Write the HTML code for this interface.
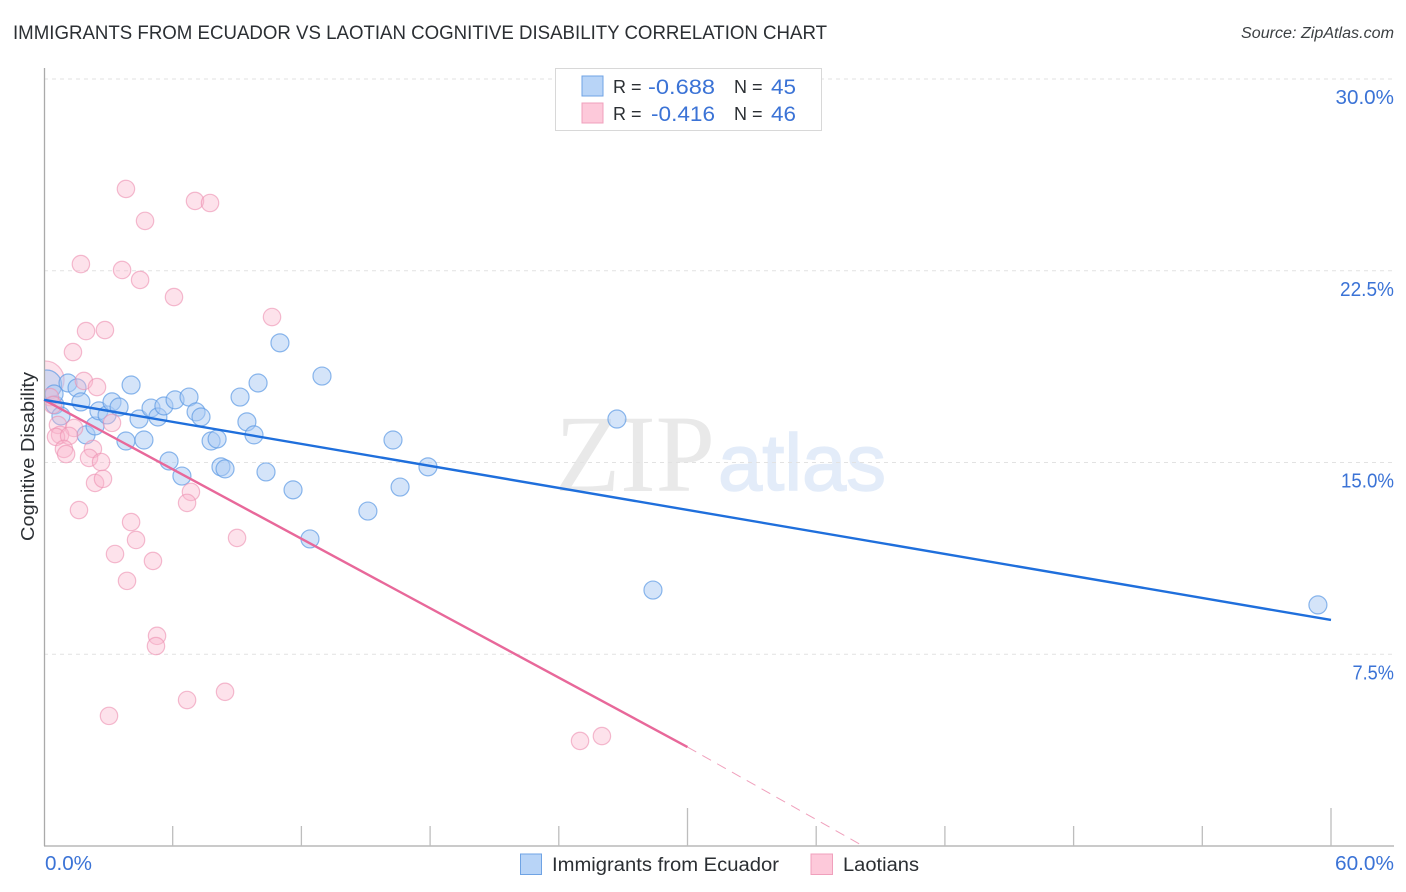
<!DOCTYPE html>
<html lang="en">
<head>
<meta charset="utf-8">
<title>Immigrants from Ecuador vs Laotian Cognitive Disability Correlation Chart</title>
<style>
html,body{margin:0;padding:0;background:#fff;width:1406px;height:892px;overflow:hidden}
svg{display:block}
text{font-family:"Liberation Sans",sans-serif}
</style>
</head>
<body>
<svg id="chart" width="1406" height="892" viewBox="0 0 1406 892" xmlns="http://www.w3.org/2000/svg">
  <rect width="1406" height="892" fill="#fff"/>
  <text x="13" y="39" font-size="19.5" fill="#2b2f33" textLength="814" lengthAdjust="spacingAndGlyphs">IMMIGRANTS FROM ECUADOR VS LAOTIAN COGNITIVE DISABILITY CORRELATION CHART</text>
  <text x="1394" y="38" font-size="15.5" font-style="italic" fill="#3c4043" text-anchor="end" textLength="153" lengthAdjust="spacingAndGlyphs">Source: ZipAtlas.com</text>
  <g>
    <text x="555" y="491" font-size="110" fill="#e9e9e9" textLength="160" lengthAdjust="spacingAndGlyphs" style="font-family:'Liberation Serif',serif">ZIP</text>
    <text x="718" y="490" font-size="80" fill="#e3ecf9" stroke="#e3ecf9" stroke-width="1.5" textLength="168" lengthAdjust="spacingAndGlyphs">atlas</text>
  </g>
  <g id="grid"></g>
  <g id="points"></g>
  <rect x="0" y="340" width="44" height="100" fill="#fff"/>
  <g id="axes"></g>
  <g id="trends"></g>
  <g id="labels"></g>
  <text x="0" y="0" transform="translate(34,456.5) rotate(-90)" font-size="18.5" fill="#2b2f33" text-anchor="middle" textLength="169" lengthAdjust="spacingAndGlyphs">Cognitive Disability</text>

  <g>
    <rect x="555.5" y="68.5" width="266" height="62" fill="#fff" stroke="#d8d8d8"/>
    <rect x="582" y="76" width="21" height="20" fill="#b8d4f7" stroke="#6fa3e4"/>
    <rect x="582" y="103" width="21" height="20" fill="#fdc9da" stroke="#f0a0bc"/>
    <text x="613" y="93" font-size="18" fill="#2b2f33">R =</text>
    <text x="648" y="94" font-size="21.5" fill="#3b73d6" textLength="67" lengthAdjust="spacingAndGlyphs">-0.688</text>
    <text x="734" y="93" font-size="18" fill="#2b2f33">N =</text>
    <text x="771" y="94" font-size="21.5" fill="#3b73d6" textLength="25" lengthAdjust="spacingAndGlyphs">45</text>
    <text x="613" y="120" font-size="18" fill="#2b2f33">R =</text>
    <text x="651" y="121" font-size="21.5" fill="#3b73d6" textLength="64" lengthAdjust="spacingAndGlyphs">-0.416</text>
    <text x="734" y="120" font-size="18" fill="#2b2f33">N =</text>
    <text x="771" y="121" font-size="21.5" fill="#3b73d6" textLength="25" lengthAdjust="spacingAndGlyphs">46</text>
  </g>

  <g>
    <g>
      <rect x="520.5" y="854" width="21" height="20.5" fill="#b8d4f7" stroke="#6fa3e4"/>
      <text x="552" y="871" font-size="19" fill="#2b2f33" textLength="227" lengthAdjust="spacingAndGlyphs">Immigrants from Ecuador</text>
    </g>
    <g>
      <rect x="811" y="854" width="21.5" height="20.5" fill="#fdc9da" stroke="#f0a0bc"/>
      <text x="843" y="871" font-size="19" fill="#2b2f33" textLength="76" lengthAdjust="spacingAndGlyphs">Laotians</text>
    </g>
  </g>
</svg>
<script>
const ecuadorX = [1.12,1.54,1.72,0.51,0.47,0.79,1.96,2.38,2.56,2.94,3.17,3.50,3.82,4.06,4.43,4.66,4.99,5.31,5.59,5.83,6.11,6.43,6.76,7.09,7.32,7.79,8.07,8.25,8.44,9.14,9.46,9.79,9.98,10.35,11.00,11.61,12.40,12.96,15.10,16.27,16.60,17.90,26.71,28.39,59.39];
const ecuadorY = [18.11,17.92,17.37,17.25,17.68,16.82,16.08,16.43,17.02,16.86,17.37,17.17,15.84,18.03,16.70,15.88,17.13,16.78,17.21,15.06,17.45,14.47,17.56,16.98,16.78,15.84,15.92,14.83,14.75,17.56,16.59,16.08,18.11,14.63,19.68,13.93,12.01,18.38,13.10,15.88,14.04,14.83,16.70,10.01,9.43];
const laotianX = [3.82,4.71,7.04,7.74,1.72,3.64,4.48,6.06,10.63,1.96,2.84,1.35,1.86,2.47,0.28,0.42,3.17,0.65,1.40,0.75,0.56,1.17,0.93,1.03,2.28,2.10,2.66,2.38,2.75,1.63,4.06,4.29,3.31,5.08,3.87,6.85,6.67,9.00,5.27,5.22,8.44,6.67,3.03,24.99,26.01];
const laotianY = [25.70,24.45,25.23,25.15,22.76,22.53,22.14,21.47,20.69,20.14,20.18,19.32,18.19,17.95,17.56,17.25,16.55,16.47,16.35,16.08,16.00,16.04,15.53,15.33,15.53,15.18,15.02,14.20,14.36,13.14,12.67,11.97,11.42,11.15,10.37,13.85,13.42,12.05,8.22,7.82,6.03,5.71,5.09,4.11,4.30];
const ecuadorAggregateX = [0.12];
const ecuadorAggregateY = [18.03];
const laotianAggregateX = [0.05];
const laotianAggregateY = [18.23];
const ecuadorTrendX = [0, 60];
const ecuadorTrendY = [17.45, 8.84];
const laotianTrendX = [0, 30];
const laotianTrendY = [17.45, 3.87];
const laotianExtensionX = [30, 38.1];
const laotianExtensionY = [3.87, 0.04];
const yGridValues = [30, 22.5, 15, 7.5];
const yTickLabels = ['30.0%', '22.5%', '15.0%', '7.5%'];
const xTickValues = [6, 12, 18, 24, 30, 36, 42, 48, 54, 60];
const xMajorTicks = [30, 60];
const xEndValues = [0, 60];
const xEndLabels = ['0.0%', '60.0%'];

const NS = 'http://www.w3.org/2000/svg';
const xScale = v => 44 + v * (1287 / 60);
const yScale = v => 846 - v * (767 / 30);
const glyphWidth = {'0':13.5,'1':8.5,'2':11.5,'3':11.5,'5':11,'6':12,'7':10.5,'.':4,'%':16};
const labelLength = t => t.split('').reduce((sum, ch) => sum + glyphWidth[ch], 0);
function make(parent, tag, attrs, text) {
  const el = document.createElementNS(NS, tag);
  for (const k in attrs) el.setAttribute(k, attrs[k]);
  if (text !== undefined) el.textContent = text;
  parent.appendChild(el);
  return el;
}
const grid = document.getElementById('grid');
const axes = document.getElementById('axes');
const points = document.getElementById('points');
const trends = document.getElementById('trends');
const labels = document.getElementById('labels');

yGridValues.forEach((v) => {
  const line = make(grid, 'line', {x1: 44, x2: 1394, y1: yScale(v), y2: yScale(v), stroke: '#e2e2e2', 'stroke-width': 1, 'stroke-dasharray': '4 4'});
  
  
});
const yAxis = make(axes, 'line', {x1: 44.5, x2: 44.5, y1: 68, y2: 846, stroke: '#aaaaaa', 'stroke-width': 1.3});


const xAxis = make(axes, 'line', {x1: 44, x2: 1394, y1: 846, y2: 846, stroke: '#aaaaaa', 'stroke-width': 1.3});


xTickValues.forEach((v) => {
  const top = xMajorTicks.includes(v) ? 808 : 826;
  const tick = make(axes, 'line', {x1: xScale(v), x2: xScale(v), y1: top, y2: 846, stroke: '#bdbdbd', 'stroke-width': 1.3});
  
  
});
function drawSeries(xs, ys, r, fill, stroke, fillOpacity, strokeOpacity, name) {
  xs.forEach((x, i) => {
    const c = make(points, 'circle', {cx: xScale(x), cy: yScale(ys[i]), r: r, fill: fill, 'fill-opacity': fillOpacity, stroke: stroke, 'stroke-opacity': strokeOpacity, 'stroke-width': 1.2});
    
    
  });
}
drawSeries(laotianAggregateX, laotianAggregateY, 19, '#fbb6cc', '#ec8fb0', 0.4, 0.6, 'laotian-aggregate-point');
drawSeries(ecuadorAggregateX, ecuadorAggregateY, 15, '#a9caf3', '#5c9ae4', 0.5, 0.7, 'ecuador-aggregate-point');
drawSeries(ecuadorX, ecuadorY, 9, '#a9caf3', '#5c9ae4', 0.5, 0.7, 'ecuador-point');
drawSeries(laotianX, laotianY, 8.7, '#fbb6cc', '#ec8fb0', 0.4, 0.6, 'laotian-point');

function trend(xs, ys, stroke, width, dash, name) {
  const attrs = {x1: xScale(xs[0]), y1: yScale(ys[0]), x2: xScale(xs[1]), y2: yScale(ys[1]), stroke: stroke, 'stroke-width': width};
  if (dash) attrs['stroke-dasharray'] = dash;
  const l = make(trends, 'line', attrs);
  
  
}
trend(laotianTrendX, laotianTrendY, '#e8689a', 2.4, null, 'laotian-trend-line');
trend(laotianExtensionX, laotianExtensionY, '#f0a0bc', 1, '10 7', 'laotian-trend-extension');
trend(ecuadorTrendX, ecuadorTrendY, '#1f6fdc', 2.4, null, 'ecuador-trend-line');

yTickLabels.forEach((t, i) => {
  const label = make(labels, 'text', {x: 1394, y: yScale(yGridValues[i]) + 25, 'font-size': 20, fill: '#3b73d6', 'text-anchor': 'end', textLength: labelLength(t), lengthAdjust: 'spacingAndGlyphs'}, t);
  
  
});
xEndLabels.forEach((t, i) => {
  const anchor = i === 0 ? 'start' : 'end';
  const px = i === 0 ? xScale(xEndValues[i]) + 1 : xScale(xEndValues[i]) + 63;
  const label = make(labels, 'text', {x: px, y: 870, 'font-size': 20, fill: '#3b73d6', 'text-anchor': anchor, textLength: labelLength(t), lengthAdjust: 'spacingAndGlyphs'}, t);
  
  
});
</script>
</body>
</html>
